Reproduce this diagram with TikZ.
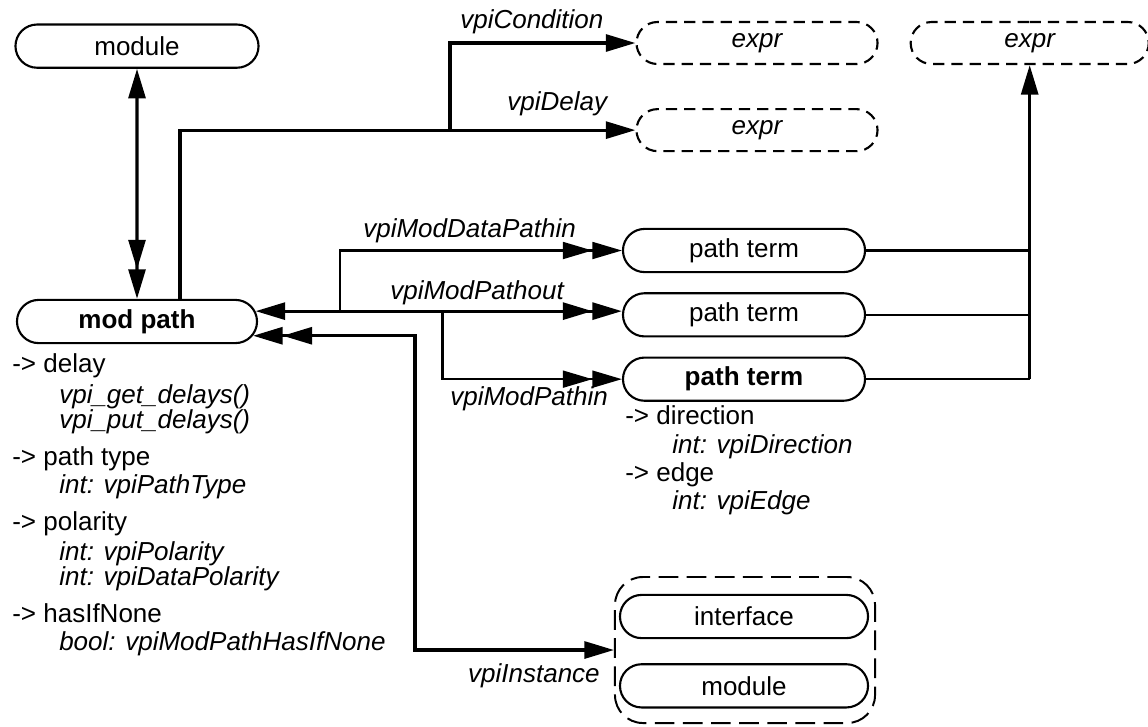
\documentclass[tikz,border=0pt]{standalone}
\usepackage{fontspec}
\setmainfont{Liberation Sans}
\usetikzlibrary{arrows.meta, positioning, shapes.misc, calc}

\newcommand{\figfont}{\fontsize{18.5pt}{22pt}\selectfont}

\tikzset{
    obj/.style={
        rounded rectangle, draw, line width=1.5pt,
        minimum width=6.05cm, minimum height=1.08cm,
        inner sep=0pt, font=\figfont
    },
    objref/.style={
        obj, minimum width=6.025cm, minimum height=1.05cm,
        dash pattern=on 8pt off 5pt, font=\figfont\itshape
    },
    grpbox/.style={
        rectangle, rounded corners=0.7cm, draw, line width=1.4pt,
        dash pattern=on 14pt off 6pt,
        minimum width=6.5cm, minimum height=3.65cm
    },
    rel/.style={font=\figfont\itshape, inner sep=0pt, anchor=base west},
    prop/.style={font=\figfont, inner sep=0pt, anchor=base west},
    propval/.style={font=\figfont\itshape, inner sep=0pt, anchor=base west},
    arr/.style={line width=2.3pt},
    arr thin/.style={line width=1.6pt},
    >={Triangle[length=21pt, width=12pt, sep=0pt]}
}

\begin{document}
\begin{tikzpicture}[x=0.025cm, y=-0.025cm]
    \useasboundingbox (0,0) rectangle (1148,726);

    % --- mod path and its module ---
    \node[obj, minimum width=6cm] (mp) at (137,321.5) {\textbf{mod path}};
    \node[obj, minimum width=6.075cm, above=5.75cm of mp] (mod) {module};

    % --- expressions ---
    \node[objref] (e1) at (757,43) {expr};
    \node[objref, below=1.075cm of e1] (e2) {expr};
    \node[objref, minimum width=5.95cm, right=0.775cm of e1] (e3) {expr};

    % --- path terms ---
    \node[obj] (pt1) at (744,250.5) {path term};
    \node[obj, below=0.475cm of pt1] (pt2) {path term};
    \node[obj, below=0.475cm of pt2] (pt3) {\textbf{path term}};

    % --- instance group ---
    \node[obj, minimum width=6.2cm] (ifc) at (744,616.5) {interface};
    \node[obj, minimum width=6.2cm, below=0.6cm of ifc] (imod) {module};
    \node[grpbox] (grp) at (745,650) {};

    % --- mod path properties ---
    \node[prop] (mp_delay) at (12,372) {-> delay};
    \node[propval] (mp_get) at (59,403) {vpi\_get\_delays()};
    \node[propval] (mp_put) at (59,428) {vpi\_put\_delays()};
    \node[prop] (mp_type) at (12,465) {-> path type};
    \node[propval] (mp_typev) at (59,493) {int: vpiPathType};
    \node[prop] (mp_pol) at (12,530) {-> polarity};
    \node[propval] (mp_polv) at (59,560) {int: vpiPolarity};
    \node[propval] (mp_dpolv) at (59,585) {int: vpiDataPolarity};
    \node[prop] (mp_none) at (12,622) {-> hasIfNone};
    \node[propval] (mp_nonev) at (59,650) {bool: vpiModPathHasIfNone};

    % --- path term properties ---
    \node[prop] (pt_dir) at (625,424) {-> direction};
    \node[propval] (pt_dirv) at (672,453) {int: vpiDirection};
    \node[prop] (pt_edge) at (625,481) {-> edge};
    \node[propval] (pt_edgev) at (672,509) {int: vpiEdge};

    % --- relation labels ---
    \node[rel] (l_cond) at (460,28) {vpiCondition};
    \node[rel] (l_delay) at (507,110) {vpiDelay};
    \node[rel] (l_dpin) at (363,237) {vpiModDataPathin};
    \node[rel] (l_pout) at (390,299) {vpiModPathout};
    \node[rel] (l_pin) at (450,405) {vpiModPathin};
    \node[rel, anchor=base east] (l_inst) at (600,682) {vpiInstance};

    % --- Arrows ---
    \draw[arr, <->>] (mod) -- (mp);

    \coordinate (dx) at ($(mp.north)+(43,0)$);
    \coordinate (cx) at (450,0);
    \draw[arr, ->] (dx) |- (e2.west);
    \draw[arr, ->] (cx |- e2.west) |- (e1.west);

    \draw[arr, <->>] (mp.5) -- (mp.5 -| pt2.west)
        coordinate[pos=0.23] (tdp) coordinate[pos=0.51] (tpi);
    \draw[arr thin, ->>] (tdp) |- (pt1.west);
    \draw[arr thin, ->>] (tpi) |- (pt3.west);

    \coordinate (ix) at (415,0);
    \draw[arr, <<->] (mp.-7) -- (mp.-7 -| ix) -- (ix |- grp.west) -- (grp.west);

    \coordinate (jn) at (pt3.east -| e3.south);
    \draw[arr thin] (pt1.east) -- (pt1.east -| jn);
    \draw[arr thin] (pt2.east) -- (pt2.east -| jn);
    \draw[arr thin] (pt3.east) -- (jn);
    \draw[arr, ->] (jn) -- (e3.south);

\end{tikzpicture}
\end{document}
